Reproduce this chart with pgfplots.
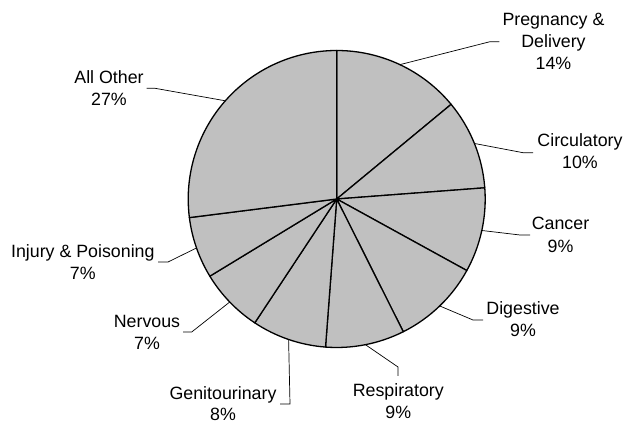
\documentclass[border=0pt]{standalone}
\usepackage{fontspec}
\setmainfont{Liberation Sans}
\usepackage{pgfplots}
\usepackage{pgfplotstable}
\pgfplotsset{compat=1.18}

\definecolor{slicegray}{RGB}{192,192,192}

% share of each slice (clockwise from 12 o'clock) and where its leader line bends / ends
\pgfplotstableread{
pct  ex    ey     tx    ty
14.0 490   383.3  499.3 383.3
9.8  523   272.3  533   272.3
9.2  520   190    530   190
9.6  473   105    483   105
8.6  398   58     398   49
8.1  290   21     280   21
7.0  191.7 93     183   93
6.7  168   163    158   163
27.0 155   336.7  146.7 336.7
}\piedata

\begin{document}
\begin{tikzpicture}[
  pieslice/.style={fill=slicegray, draw=black, line width=1.3bp, line join=round},
  leader/.style={draw=black, line width=0.7bp},
  lbl/.style={anchor=base, inner sep=0pt, font=\fontsize{17.8bp}{21.7bp}\selectfont},
]
\begin{axis}[
  width=626bp, height=425bp, scale only axis,
  xmin=0, xmax=626, ymin=0, ymax=425,
  hide axis, clip=false,
]
\path (axis cs:0,0) (axis cs:626,425);
\def\cx{336.7}
\def\cy{226}
\def\rr{148.5bp}
\def\cum{0}
\pgfplotsforeachungrouped \i in {0,...,8}{%
  \pgfplotstablegetelem{\i}{pct}\of\piedata \let\v\pgfplotsretval
  \pgfmathsetmacro\aStart{90-3.6*\cum}
  \pgfmathsetmacro\aEnd{90-3.6*(\cum+\v)}
  \pgfmathsetmacro\aMid{(\aStart+\aEnd)/2}
  \pgfplotstablegetelem{\i}{ex}\of\piedata \let\ex\pgfplotsretval
  \pgfplotstablegetelem{\i}{ey}\of\piedata \let\ey\pgfplotsretval
  \pgfplotstablegetelem{\i}{tx}\of\piedata \let\tx\pgfplotsretval
  \pgfplotstablegetelem{\i}{ty}\of\piedata \let\ty\pgfplotsretval
  \edef\temp{%
    \noexpand\path[pieslice] (axis cs:\cx,\cy) -- ++(\aStart:\rr)
      arc[start angle=\aStart, end angle=\aEnd, radius=\rr] -- cycle;
    \noexpand\path[leader] (axis cs:\cx,\cy) ++(\aMid:\rr)
      -- (axis cs:\ex,\ey) -- (axis cs:\tx,\ty);
  }\temp
  \pgfmathsetmacro\cum{\cum+\v}
}

\node[lbl] at (axis cs:553.5,399)   {Pregnancy \&};
\node[lbl] at (axis cs:553.5,377.3) {Delivery};
\node[lbl] at (axis cs:553.5,355.7) {14\%};
\node[lbl] at (axis cs:580,278.3)   {Circulatory};
\node[lbl] at (axis cs:580,256.7)   {10\%};
\node[lbl] at (axis cs:560.5,195.7) {Cancer};
\node[lbl] at (axis cs:560.5,172.3) {9\%};
\node[lbl] at (axis cs:523,110)     {Digestive};
\node[lbl] at (axis cs:523,88.3)    {9\%};
\node[lbl] at (axis cs:398.3,28.3)  {Respiratory};
\node[lbl] at (axis cs:398.3,6.7)   {9\%};
\node[lbl] at (axis cs:223,26)      {Genitourinary};
\node[lbl] at (axis cs:223,4.3)     {8\%};
\node[lbl] at (axis cs:147,97.7)    {Nervous};
\node[lbl] at (axis cs:147,75.7)    {7\%};
\node[lbl] at (axis cs:82.8,167.7)  {Injury \& Poisoning};
\node[lbl] at (axis cs:82.8,145.7)  {7\%};
\node[lbl] at (axis cs:109,341.7)   {All Other};
\node[lbl] at (axis cs:109,319.7)   {27\%};
\end{axis}
\end{tikzpicture}
\end{document}
